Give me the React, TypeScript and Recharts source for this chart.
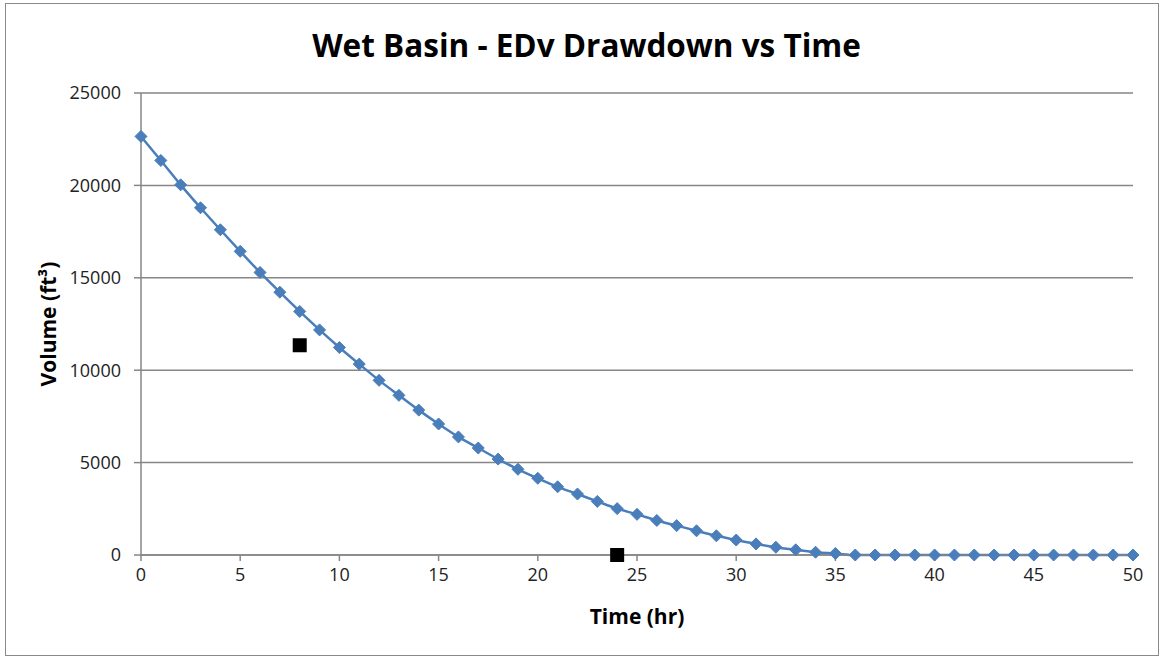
import { ComposedChart, Line, Scatter, XAxis, YAxis, CartesianGrid, Label } from 'recharts';

const hours = [
  0, 1, 2, 3, 4, 5, 6, 7, 8, 9, 10, 11, 12, 13, 14, 15, 16, 17, 18, 19, 20, 21, 22, 23, 24, 25,
  26, 27, 28, 29, 30, 31, 32, 33, 34, 35, 36, 37, 38, 39, 40, 41, 42, 43, 44, 45, 46, 47, 48, 49, 50,
];
const volumes = [
  22650, 21350, 20030, 18790, 17600, 16430, 15290, 14220, 13180, 12180, 11230, 10330, 9450, 8640,
  7840, 7090, 6390, 5790, 5190, 4640, 4150, 3690, 3300, 2900, 2510, 2200, 1870, 1590, 1310, 1040,
  810, 600, 420, 280, 150, 80, 0, 0, 0, 0, 0, 0, 0, 0, 0, 0, 0, 0, 0, 0, 0,
];
const markerHours = [8, 24];
const markerVolumes = [11350, 0];

const xTicks = [0, 5, 10, 15, 20, 25, 30, 35, 40, 45, 50];
const yTicks = [0, 5000, 10000, 15000, 20000, 25000];

const curve = hours.map((t, i) => ({ t, v: volumes[i] }));
const markers = markerHours.map((t, i) => ({ t, v: markerVolumes[i] }));

const FONT = '"Open Sans", sans-serif';
const GRID = '#868686';
const BLUE = '#4a7ebb';

const Diamond = (props: any) => {
  const { cx, cy } = props;
  if (cx == null || cy == null) return null;
  const r = 6;
  return (
    <polygon
      points={`${cx},${cy - r} ${cx + r},${cy} ${cx},${cy + r} ${cx - r},${cy}`}
      fill={BLUE}
      stroke={BLUE}
      strokeWidth={1}
    />
  );
};

const Square = (props: any) => {
  const { cx, cy } = props;
  if (cx == null || cy == null) return null;
  return <rect x={cx - 7} y={cy - 7} width={14} height={14} fill="#000" />;
};

export default function App() {
  return (
    <div style={{ position: 'absolute', left: 0, top: 0, width: 1163, height: 658, background: '#fff', fontFamily: FONT }}>
      <div
        style={{
          position: 'absolute',
          left: 5,
          top: 3,
          width: 1154,
          height: 653,
          border: '1px solid #8a8a8a',
          boxSizing: 'border-box',
        }}
      />
      <div
        style={{
          position: 'absolute',
          left: 0,
          top: 27,
          width: 1163,
          paddingLeft: 10,
          boxSizing: 'border-box',
          textAlign: 'center',
          fontSize: 31.5,
          lineHeight: '36px',
          fontWeight: 700,
          color: '#000',
        }}
      >
        Wet Basin - EDv Drawdown vs Time
      </div>
      <div style={{ position: 'absolute', left: 0, top: 0 }}>
        <ComposedChart width={1163} height={658} margin={{ top: 93, right: 30, bottom: 63, left: 61 }}>
          <CartesianGrid vertical={false} stroke={GRID} strokeWidth={1.5} />
          <XAxis
            type="number"
            dataKey="t"
            domain={[0, 50]}
            ticks={xTicks}
            height={40}
            stroke={GRID}
            strokeWidth={1.5}
            tickSize={6}
            tickMargin={7}
            tick={{ fill: '#222', fontSize: 18, fontFamily: FONT }}
          >
            <Label
              value="Time (hr)"
              position="bottom"
              offset={14}
              style={{ fill: '#000', fontSize: 21, fontWeight: 700, fontFamily: FONT }}
            />
          </XAxis>
          <YAxis
            type="number"
            dataKey="v"
            domain={[0, 25000]}
            ticks={yTicks}
            width={80}
            stroke={GRID}
            strokeWidth={1.5}
            tickSize={7}
            tickMargin={13}
            tick={{ fill: '#222', fontSize: 18, fontFamily: FONT }}
          >
            <Label
              content={(p: any) => {
                const vb = p.viewBox || {};
                const cx = 48;
                const cy = vb.y + vb.height / 2;
                return (
                  <text
                    x={cx}
                    y={cy}
                    transform={`rotate(-90 ${cx} ${cy})`}
                    textAnchor="middle"
                    dominantBaseline="central"
                    style={{ fill: '#000', fontSize: 21, fontWeight: 700, fontFamily: FONT }}
                  >
                    Volume (ft³)
                  </text>
                );
              }}
            />
          </YAxis>
          <Line
            data={curve}
            dataKey="v"
            type="monotone"
            stroke={BLUE}
            strokeWidth={2.5}
            dot={<Diamond />}
            activeDot={false}
            isAnimationActive={false}
          />
          <Scatter data={markers} dataKey="v" shape={<Square />} isAnimationActive={false} />
        </ComposedChart>
      </div>
    </div>
  );
}
